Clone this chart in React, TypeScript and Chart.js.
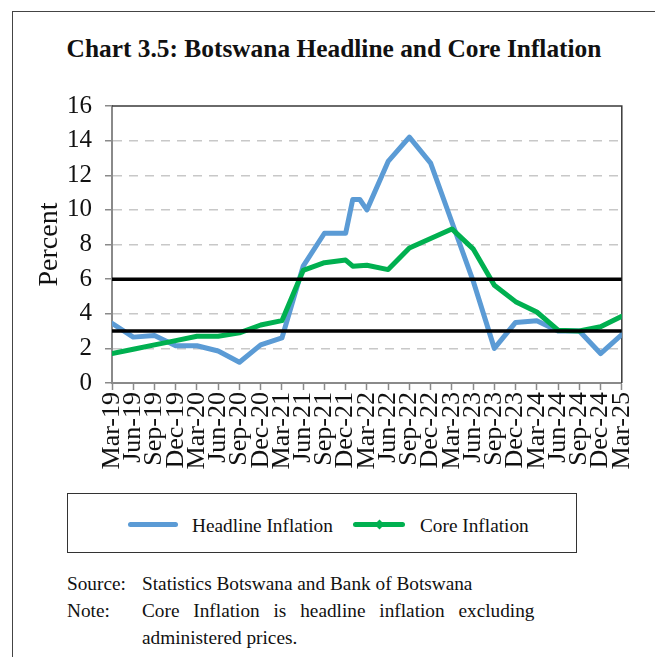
import React, { useEffect, useRef } from "react";
import { Chart, registerables } from "chart.js";

Chart.register(...registerables);

// Quarterly tick labels on the x axis
const quarterLabels = [
  "Mar-19", "Jun-19", "Sep-19", "Dec-19", "Mar-20", "Jun-20", "Sep-20", "Dec-20",
  "Mar-21", "Jun-21", "Sep-21", "Dec-21", "Mar-22", "Jun-22", "Sep-22", "Dec-22",
  "Mar-23", "Jun-23", "Sep-23", "Dec-23", "Mar-24", "Jun-24", "Sep-24", "Dec-24", "Mar-25",
];

// Headline inflation (%)
const headlinePeriods = [
  "Mar-19", "Jun-19", "Sep-19", "Dec-19", "Mar-20", "Jun-20", "Sep-20", "Dec-20",
  "Mar-21", "Jun-21", "Sep-21", "Dec-21", "Jan-22", "Feb-22", "Mar-22", "Jun-22",
  "Sep-22", "Dec-22", "Mar-23", "Jun-23", "Sep-23", "Dec-23", "Mar-24", "Jun-24",
  "Sep-24", "Dec-24", "Mar-25",
];
const headlineValues = [
  3.45, 2.65, 2.75, 2.15, 2.15, 1.85, 1.2, 2.2,
  2.6, 6.75, 8.65, 8.65, 10.6, 10.6, 10.0, 12.8,
  14.2, 12.7, 9.3, 5.9, 2.0, 3.5, 3.6, 3.0,
  3.0, 1.7, 2.8,
];

// Core inflation (%)
const corePeriods = [
  "Mar-19", "Jun-19", "Sep-19", "Dec-19", "Mar-20", "Jun-20", "Sep-20", "Dec-20",
  "Mar-21", "Jun-21", "Sep-21", "Dec-21", "Jan-22", "Mar-22", "Jun-22", "Sep-22",
  "Dec-22", "Mar-23", "Jun-23", "Sep-23", "Dec-23", "Mar-24", "Jun-24", "Sep-24",
  "Dec-24", "Mar-25",
];
const coreValues = [
  1.7, 1.95, 2.2, 2.45, 2.7, 2.7, 2.9, 3.35,
  3.6, 6.5, 6.95, 7.1, 6.75, 6.8, 6.55, 7.8,
  8.35, 8.9, 7.75, 5.65, 4.7, 4.1, 3.05, 3.0,
  3.25, 3.85,
];

// Objective range bounds (%)
const objectiveBounds = [3, 6];

const MONTHS = ["Jan", "Feb", "Mar", "Apr", "May", "Jun", "Jul", "Aug", "Sep", "Oct", "Nov", "Dec"];
const absMonth = (p: string) => {
  const [m, y] = p.split("-");
  return Number(y) * 12 + MONTHS.indexOf(m);
};
const BASE = absMonth(quarterLabels[0]);
const monthOffset = (p: string) => absMonth(p) - BASE;
const LAST = monthOffset(quarterLabels[quarterLabels.length - 1]);

const SERIF = "'Liberation Serif', 'Times New Roman', serif";

const framePlugin = {
  id: "frame",
  beforeDatasetsDraw(chart: any) {
    const { ctx, chartArea: a } = chart;
    ctx.save();
    ctx.strokeStyle = "#3a3a3a";
    ctx.lineWidth = 1.5;
    ctx.beginPath();
    ctx.moveTo(a.left, a.top);
    ctx.lineTo(a.right, a.top);
    ctx.lineTo(a.right, a.bottom);
    ctx.stroke();
    ctx.restore();
  },
};

export default function App() {
  const ref = useRef<HTMLCanvasElement | null>(null);

  useEffect(() => {
    if (!ref.current) return;
    const bandSets = objectiveBounds.map((b) => ({
      label: `bound-${b}`,
      data: [
        { x: 0, y: b },
        { x: LAST, y: b },
      ],
      borderColor: "#000000",
      borderWidth: 3.5,
      pointRadius: 0,
      order: 0,
    }));
    const chart = new Chart(ref.current, {
      type: "line",
      data: {
        datasets: [
          ...bandSets,
          {
            label: "Core Inflation",
            data: corePeriods.map((p, i) => ({ x: monthOffset(p), y: coreValues[i] })),
            borderColor: "#00B050",
            borderWidth: 5,
            pointRadius: 0,
            tension: 0,
            borderJoinStyle: "round",
            borderCapStyle: "round",
            order: 1,
          },
          {
            label: "Headline Inflation",
            data: headlinePeriods.map((p, i) => ({ x: monthOffset(p), y: headlineValues[i] })),
            borderColor: "#5B9BD5",
            borderWidth: 5,
            pointRadius: 0,
            tension: 0,
            borderJoinStyle: "round",
            borderCapStyle: "round",
            order: 2,
          },
        ] as any,
      },
      options: {
        animation: false,
        responsive: false,
        maintainAspectRatio: false,
        layout: { padding: { left: 29, top: 106, right: 31, bottom: 0 } },
        plugins: {
          legend: { display: false },
          tooltip: { enabled: false },
        },
        scales: {
          x: {
            type: "linear",
            min: 0,
            max: LAST,
            afterFit: (s: any) => {
              s.height = 97;
            },
            ticks: {
              stepSize: 3,
              autoSkip: false,
              minRotation: 90,
              maxRotation: 90,
              padding: 2,
              color: "#111111",
              font: { family: SERIF, size: 26 },
              callback: (v: any) => {
                const lbl = quarterLabels.find((q) => monthOffset(q) === Number(v));
                return lbl ?? "";
              },
            },
            grid: {
              drawOnChartArea: false,
              drawTicks: true,
              tickLength: 7,
              tickColor: "#8a8a8a",
              tickWidth: 1.5,
            },
            border: { display: true, color: "#8a8a8a", width: 2 },
          },
          y: {
            min: 0,
            max: 16,
            afterFit: (s: any) => {
              s.width = 83;
            },
            ticks: {
              stepSize: 2,
              padding: 13,
              color: "#111111",
              font: { family: SERIF, size: 25 },
            },
            title: {
              display: true,
              text: "Percent",
              color: "#111111",
              font: { family: SERIF, size: 28 },
              padding: { top: 4, bottom: 4 },
            },
            grid: {
              drawTicks: true,
              tickLength: 7,
              tickColor: "#8a8a8a",
              tickWidth: 1.5,
              color: (ctx: any) => {
                const v = ctx.tick?.value;
                return v === 0 || v === 16 ? "rgba(0,0,0,0)" : "#c8c8c8";
              },
              lineWidth: 1.5,
            },
            border: { display: true, color: "#8a8a8a", width: 2, dash: [9, 7] },
          },
        },
      } as any,
      plugins: [framePlugin],
    });
    return () => chart.destroy();
  }, []);

  const text: React.CSSProperties = {
    position: "absolute",
    fontFamily: SERIF,
    color: "#111111",
    whiteSpace: "nowrap",
    margin: 0,
  };

  return (
    <div
      style={{
        position: "absolute",
        left: 0,
        top: 0,
        width: 655,
        height: 657,
        overflow: "hidden",
        background: "#ffffff",
      }}
    >
      <div
        style={{
          position: "absolute",
          left: 12,
          top: 11,
          width: 700,
          height: 700,
          borderTop: "1.5px solid #444",
          borderLeft: "1.5px solid #444",
        }}
      />
      <div
        style={{
          ...text,
          left: 40,
          width: 588,
          top: 35.5,
          textAlign: "center",
          fontSize: 25.4,
          lineHeight: "25px",
          fontWeight: "bold",
        }}
      >
        Chart 3.5: Botswana Headline and Core Inflation
      </div>
      <canvas ref={ref} width={655} height={480} style={{ position: "absolute", left: 0, top: 0 }} />
      <div
        style={{
          position: "absolute",
          left: 67,
          top: 493,
          width: 510,
          height: 60,
          border: "1.2px solid #333",
          boxSizing: "border-box",
        }}
      />
      <div
        style={{
          position: "absolute",
          left: 128,
          top: 521.5,
          width: 50,
          height: 5,
          borderRadius: 3,
          background: "#5B9BD5",
        }}
      />
      <div style={{ ...text, left: 192, top: 515.5, fontSize: 19.3, lineHeight: "19px" }}>Headline Inflation</div>
      <div
        style={{
          position: "absolute",
          left: 353,
          top: 521.5,
          width: 52,
          height: 5,
          borderRadius: 3,
          background: "#00B050",
        }}
      />
      <div
        style={{
          position: "absolute",
          left: 375.5,
          top: 520.5,
          width: 7,
          height: 7,
          transform: "rotate(45deg)",
          background: "#00B050",
        }}
      />
      <div style={{ ...text, left: 420, top: 515.5, fontSize: 19.3, lineHeight: "19px" }}>Core Inflation</div>
      <div style={{ ...text, left: 67, top: 574, fontSize: 19.3, lineHeight: "19px" }}>Source:</div>
      <div style={{ ...text, left: 142, top: 574, fontSize: 19.3, lineHeight: "19px" }}>
        Statistics Botswana and Bank of Botswana
      </div>
      <div style={{ ...text, left: 67, top: 601, fontSize: 19.3, lineHeight: "19px" }}>Note:</div>
      <div
        style={{
          ...text,
          left: 142,
          top: 601,
          fontSize: 19.3,
          lineHeight: "19px",
          wordSpacing: "9px",
        }}
      >
        Core Inflation is headline inflation excluding
      </div>
      <div style={{ ...text, left: 142, top: 627.5, fontSize: 19.3, lineHeight: "19px" }}>
        administered prices.
      </div>
    </div>
  );
}
